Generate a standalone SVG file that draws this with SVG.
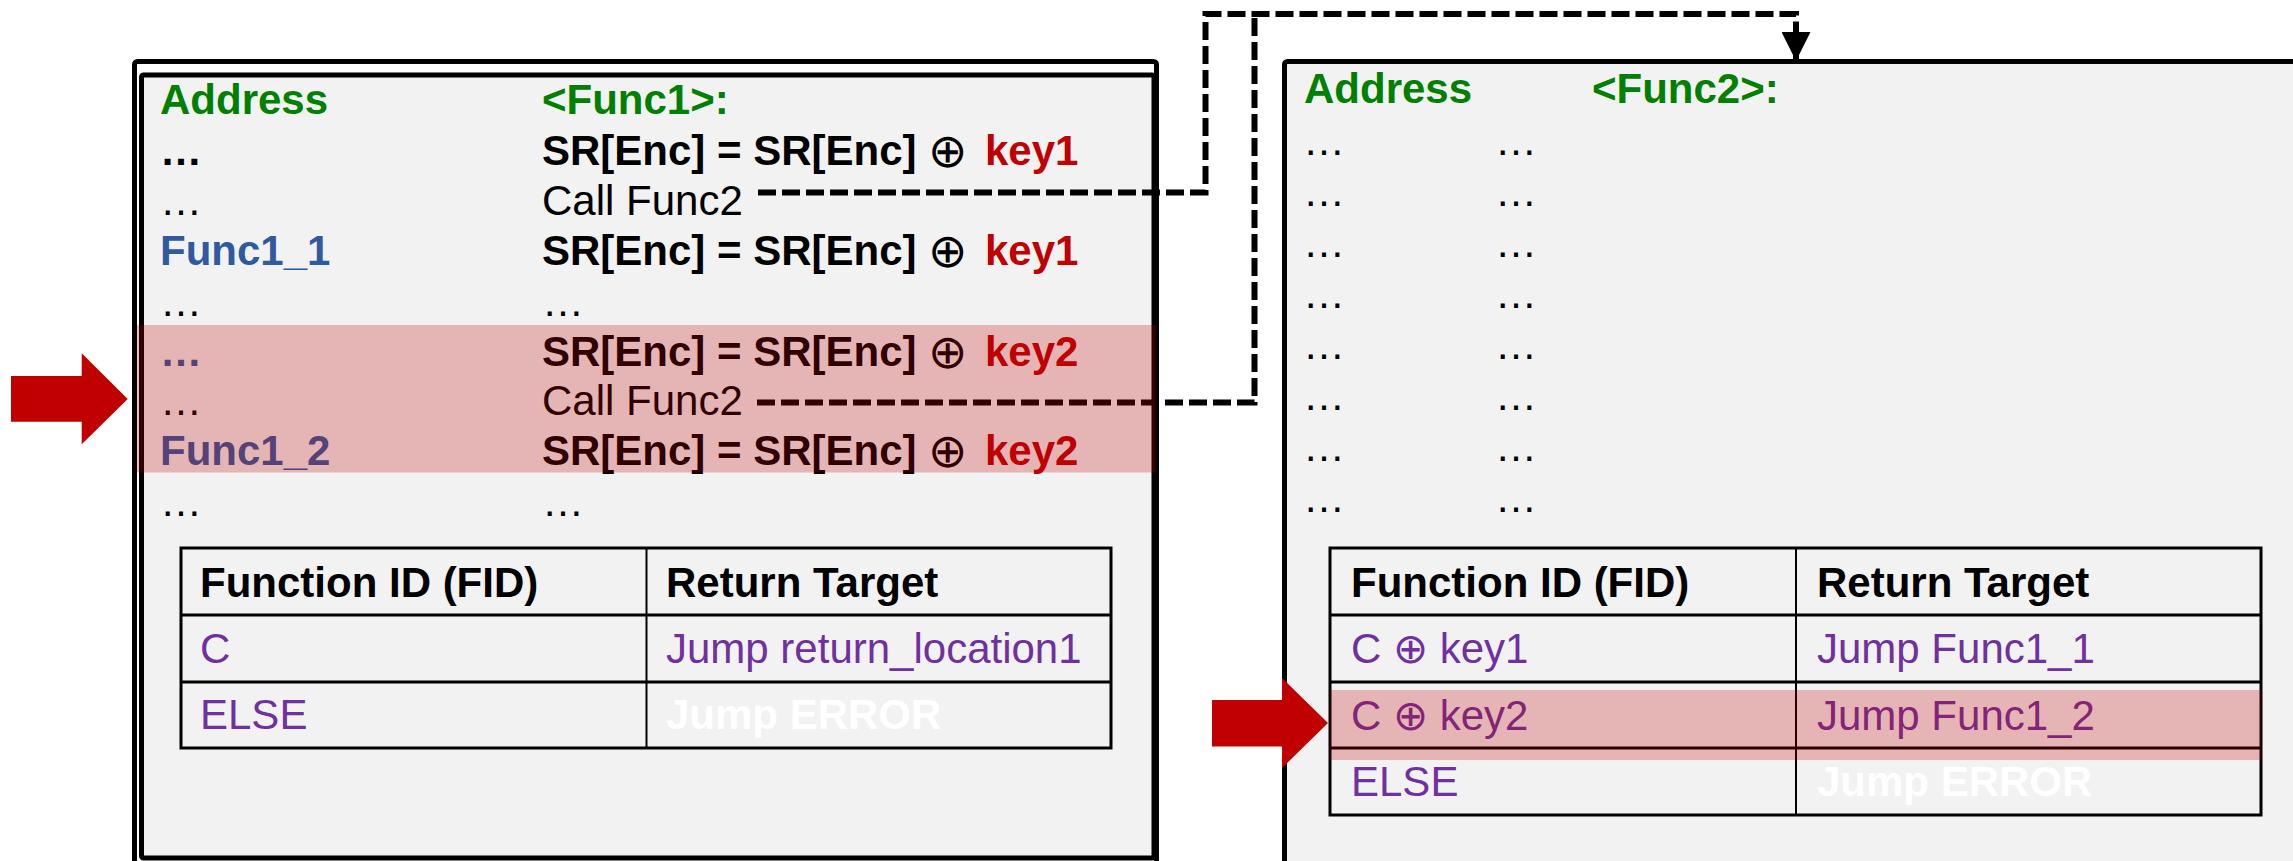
<svg xmlns="http://www.w3.org/2000/svg" width="2293" height="861" viewBox="0 0 2293 861">
<style>
text{font-family:"Liberation Sans",Arial,sans-serif;font-size:42px;fill:#000}
.b{font-weight:bold}
.g{fill:#008000;font-weight:bold}
.bl{fill:#2F5AA0;font-weight:bold}
.r{fill:#C00000;font-weight:bold}
.p{fill:#7030A0}
.w{fill:#FFFFFF;font-weight:bold}
.ox{font-family:"DejaVu Sans",sans-serif;font-weight:200;font-size:47px}
.tb{fill:none;stroke:#000;stroke-width:3}
.dv{stroke:#000;stroke-width:2}
.dash{fill:none;stroke:#000;stroke-width:6;stroke-dasharray:18 6}
.hl{fill:#C00000;fill-opacity:0.25}
.arrow{fill:#C00000}
</style>
<defs>
<marker id="ah" viewBox="0 0 29 29" refX="29" refY="14.5" markerWidth="29" markerHeight="29" markerUnits="userSpaceOnUse" orient="auto">
<path d="M0,0 L29,14.5 L0,29 z" fill="#000"/>
</marker>
</defs>

<g id="func1">
<rect x="134.5" y="61.5" width="1022" height="830" rx="3" fill="#FFFFFF" stroke="#000" stroke-width="5"/>
<rect x="141.5" y="75" width="1012.5" height="783" rx="2" fill="#F2F2F2" stroke="#000" stroke-width="5"/>
<text x="160" y="114" class="g">Address</text>
<text x="542" y="114" class="g">&lt;Func1&gt;:</text>
<text x="160" y="165" class="b">…</text>
<text x="542" y="165" class="b">SR[Enc] = SR[Enc] <tspan class="ox" x="928" dy="2">⊕</tspan><tspan class="r" x="985" dy="-2">key1</tspan></text>
<text x="160" y="215">…</text>
<text x="542" y="215">Call Func2</text>
<text x="160" y="265" class="bl">Func1_1</text>
<text x="542" y="265" class="b">SR[Enc] = SR[Enc] <tspan class="ox" x="928" dy="2">⊕</tspan><tspan class="r" x="985" dy="-2">key1</tspan></text>
<text x="160" y="316">…</text>
<text x="542" y="316">…</text>
<text x="160" y="366" class="bl">…</text>
<text x="542" y="366" class="b">SR[Enc] = SR[Enc] <tspan class="ox" x="928" dy="2">⊕</tspan><tspan class="r" x="985" dy="-2">key2</tspan></text>
<text x="160" y="415">…</text>
<text x="542" y="415">Call Func2</text>
<text x="160" y="465" class="bl">Func1_2</text>
<text x="542" y="465" class="b">SR[Enc] = SR[Enc] <tspan class="ox" x="928" dy="2">⊕</tspan><tspan class="r" x="985" dy="-2">key2</tspan></text>
<text x="160" y="516">…</text>
<text x="542" y="516">…</text>
</g>

<g id="table1">
<rect x="181" y="548" width="930" height="200" class="tb"/>
<line x1="181" y1="615" x2="1111" y2="615" class="tb"/>
<line x1="181" y1="682" x2="1111" y2="682" class="tb"/>
<line x1="646.5" y1="548" x2="646.5" y2="748" class="dv"/>
<text x="200" y="597" class="b">Function ID (FID)</text>
<text x="666" y="597" class="b">Return Target</text>
<text x="200" y="663" class="p">C</text>
<text x="666" y="663" class="p">Jump return_location1</text>
<text x="200" y="729" class="p">ELSE</text>
<text x="666" y="729" class="w">Jump ERROR</text>
</g>

<g id="func2">
<rect x="1284.5" y="61.5" width="1100" height="830" rx="3" fill="#F2F2F2" stroke="#000" stroke-width="5"/>
<text x="1304" y="103" class="g">Address</text>
<text x="1592" y="103" class="g">&lt;Func2&gt;:</text>
<text x="1303" y="155">…</text><text x="1495" y="155">…</text>
<text x="1303" y="206">…</text><text x="1495" y="206">…</text>
<text x="1303" y="257">…</text><text x="1495" y="257">…</text>
<text x="1303" y="308">…</text><text x="1495" y="308">…</text>
<text x="1303" y="359">…</text><text x="1495" y="359">…</text>
<text x="1303" y="410">…</text><text x="1495" y="410">…</text>
<text x="1303" y="461">…</text><text x="1495" y="461">…</text>
<text x="1303" y="512">…</text><text x="1495" y="512">…</text>
</g>

<g id="table2">
<rect x="1330" y="548" width="931" height="267" class="tb"/>
<line x1="1330" y1="615" x2="2261" y2="615" class="tb"/>
<line x1="1330" y1="682" x2="2261" y2="682" class="tb"/>
<line x1="1330" y1="748" x2="2261" y2="748" class="tb"/>
<line x1="1796" y1="548" x2="1796" y2="815" class="dv"/>
<text x="1351" y="597" class="b">Function ID (FID)</text>
<text x="1817" y="597" class="b">Return Target</text>
<text x="1351" y="663" class="p">C ⊕ key1</text>
<text x="1817" y="663" class="p">Jump Func1_1</text>
<text x="1351" y="730" class="p">C ⊕ key2</text>
<text x="1817" y="730" class="p">Jump Func1_2</text>
<text x="1351" y="796" class="p">ELSE</text>
<text x="1817" y="796" class="w">Jump ERROR</text>
</g>

<g id="connectors">
<path d="M758,192.5 H1205.5 V14 H1796 V61" class="dash" marker-end="url(#ah)"/>
<path d="M757,402.5 H1254.5 V14" class="dash"/>
</g>

<g id="highlight1">
<rect x="137" y="325" width="1019" height="147.5" class="hl"/>
<polygon points="11,376 81.7,376 81.7,353.3 127.7,399 81.7,444.3 81.7,421.7 11,421.7" class="arrow"/>
</g>

<g id="highlight2">
<rect x="1330" y="690" width="931" height="70" class="hl"/>
<polygon points="1212,700 1282,700 1282,678 1328,723 1282,768 1282,746.5 1212,746.5" class="arrow"/>
</g>
</svg>
